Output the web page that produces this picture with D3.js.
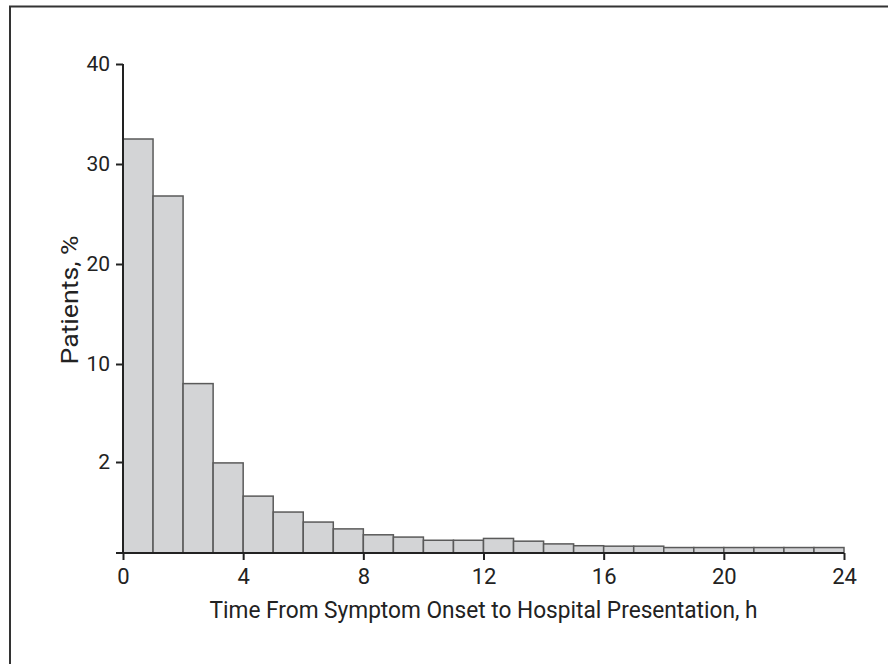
<!DOCTYPE html>
<html>
<head>
<meta charset="utf-8">
<script src="https://cdn.jsdelivr.net/npm/d3@7"></script>
<style>
  body { margin: 0; background: #fff; }
  svg { display: block; }
  text { font-family: Roboto, "Liberation Sans", sans-serif; fill: #222; }
</style>
</head>
<body>
<svg id="chart"></svg>
<script>
// hour bins (start of each 1-h bin)
const binStarts = d3.range(0, 24);
// percent of patients in each bin
const patientPct = [32.5, 26.8, 8.4, 1.98, 1.25, 0.9, 0.68, 0.53, 0.4, 0.35, 0.28, 0.28,
  0.32, 0.26, 0.2, 0.16, 0.15, 0.15, 0.12, 0.12, 0.12, 0.12, 0.12, 0.12];
const xTicks = [0, 4, 8, 12, 16, 20, 24];
const yTicks = [2, 10, 20, 30, 40];
// the y axis is broken: 0-2, 2-10 and 10-40 each get their own stretch
const yBreaks = [0, 2, 10, 40];

const width = 888;
const height = 664;

const svg = d3.select("#chart").attr("width", width).attr("height", height);

// frame (left + top edges only show)
svg.append("path")
  .attr("d", `M10,${height} V6.5 H${width}`)
  .attr("fill", "none")
  .attr("stroke", "#333")
  .attr("stroke-width", 2);

const x = d3.scaleLinear().domain([0, 24]).range([123, 844]);
const y = d3.scaleLinear().domain(yBreaks).range([553, 462, 364, 64]);

// bars
svg.append("g")
  .selectAll("rect")
  .data(binStarts)
  .join("rect")
  .attr("x", (d) => x(d))
  .attr("y", (d, i) => y(patientPct[i]))
  .attr("width", (d) => x(d + 1) - x(d))
  .attr("height", (d, i) => y(0) - y(patientPct[i]))
  .attr("fill", "#d3d4d6")
  .attr("stroke", "#5a5a5a")
  .attr("stroke-width", 1.5);

// x axis
const xAxis = svg.append("g")
  .attr("transform", `translate(0,${y(0)})`)
  .call(d3.axisBottom(x).tickValues(xTicks).tickSize(7).tickSizeOuter(0).tickPadding(8));
xAxis.select(".domain").remove();
xAxis.append("line")
  .attr("x1", 116).attr("x2", x(24))
  .attr("stroke", "#222").attr("stroke-width", 2);
xAxis.selectAll(".tick line").attr("stroke", "#222").attr("stroke-width", 2);
xAxis.selectAll(".tick text").attr("font-size", 22).attr("fill", "#222");

// y axis
const yAxis = svg.append("g")
  .attr("transform", `translate(${x(0)},0)`)
  .call(d3.axisLeft(y).tickValues(yTicks).tickSize(7).tickSizeOuter(0).tickPadding(6));
yAxis.select(".domain").remove();
yAxis.append("line")
  .attr("y1", y(40)).attr("y2", y(0))
  .attr("stroke", "#222").attr("stroke-width", 2);
yAxis.selectAll(".tick line").attr("stroke", "#222").attr("stroke-width", 2);
yAxis.selectAll(".tick text").attr("font-size", 21).attr("fill", "#222");

// axis titles
svg.append("text")
  .attr("x", (x(0) + x(24)) / 2)
  .attr("y", 618)
  .attr("text-anchor", "middle")
  .attr("font-size", 24)
  .attr("textLength", 548)
  .attr("lengthAdjust", "spacingAndGlyphs")
  .text("Time From Symptom Onset to Hospital Presentation, h");

svg.append("text")
  .attr("transform", `translate(78,300) rotate(-90)`)
  .attr("text-anchor", "middle")
  .attr("font-size", 23)
  .attr("textLength", 129)
  .attr("lengthAdjust", "spacingAndGlyphs")
  .text("Patients, %");
</script>
</body>
</html>
